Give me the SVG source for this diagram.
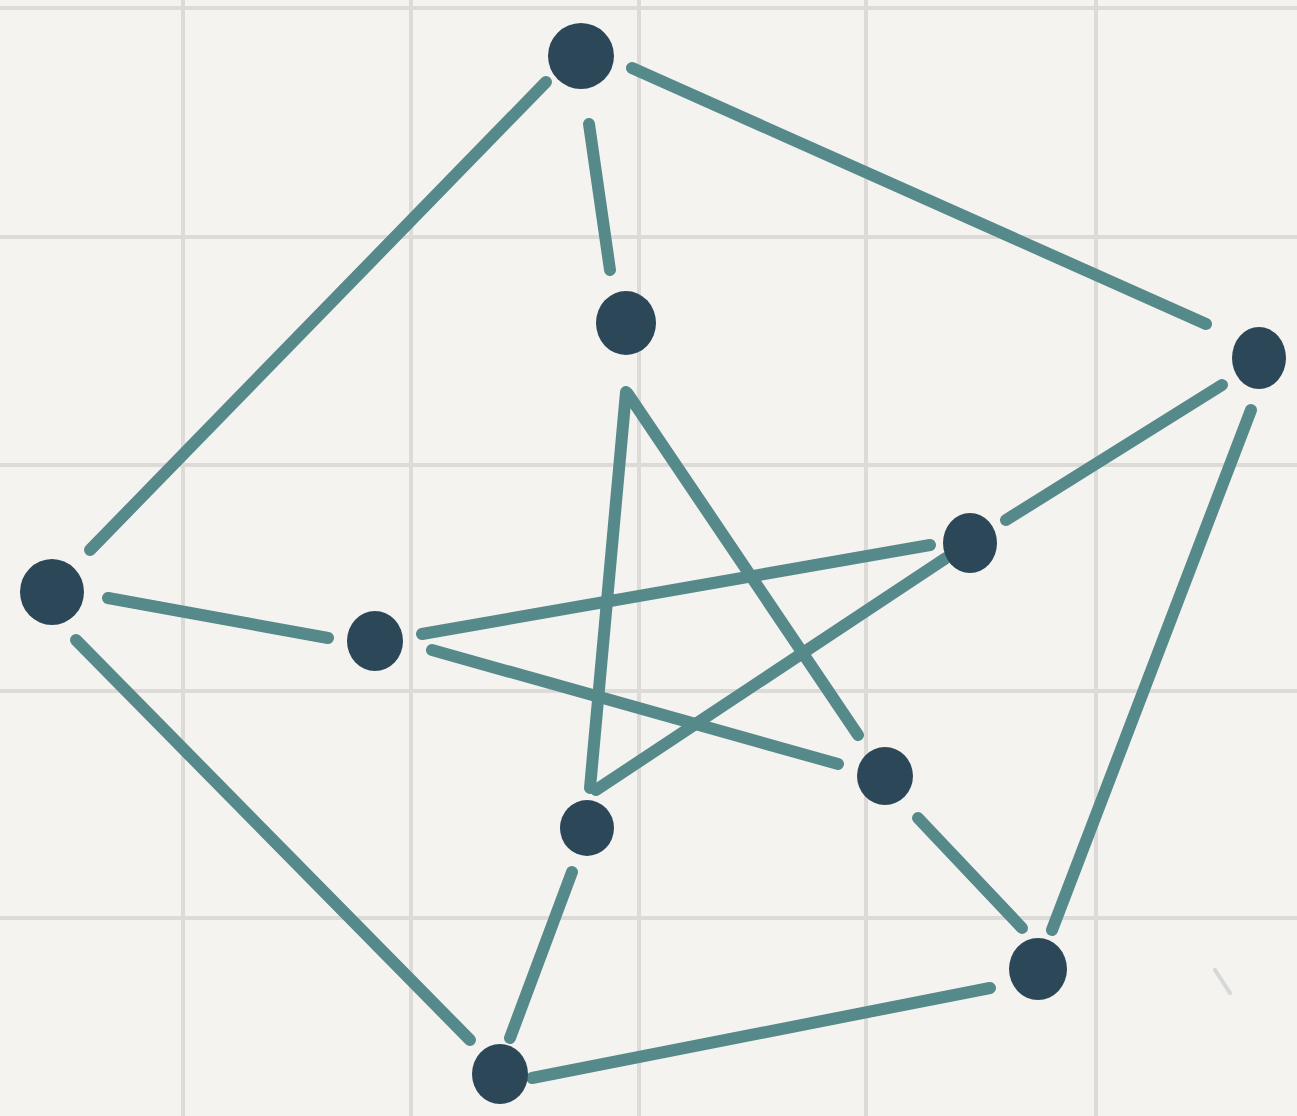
<svg xmlns="http://www.w3.org/2000/svg" width="1297" height="1116" viewBox="0 0 1297 1116">
<style>
.grid line{stroke:#dddbd8;stroke-width:4}
.edges line{stroke:#56898a;stroke-width:12;stroke-linecap:round}
.node{fill:#2c4858}
</style>
<rect width="1297" height="1116" fill="#f4f3f0"/>
<g class="grid">
<line x1="183" y1="0" x2="183" y2="1116"/>
<line x1="411" y1="0" x2="411" y2="1116"/>
<line x1="639" y1="0" x2="639" y2="1116"/>
<line x1="866" y1="0" x2="866" y2="1116"/>
<line x1="1096" y1="0" x2="1096" y2="1116"/>
<line x1="0" y1="8" x2="1297" y2="8"/>
<line x1="0" y1="237" x2="1297" y2="237"/>
<line x1="0" y1="465" x2="1297" y2="465"/>
<line x1="0" y1="691" x2="1297" y2="691"/>
<line x1="0" y1="918" x2="1297" y2="918"/>
</g>
<g class="edges" id="connectors">
<line x1="632" y1="68" x2="1206" y2="324"/>
<line x1="546" y1="82" x2="90" y2="550"/>
<line x1="589" y1="124" x2="610" y2="270"/>
<line x1="1251" y1="410" x2="1052" y2="930"/>
<line x1="1222" y1="385" x2="1006" y2="520"/>
<line x1="990" y1="988" x2="532" y2="1078"/>
<line x1="918" y1="818" x2="1022" y2="928"/>
<line x1="76" y1="640" x2="470" y2="1040"/>
<line x1="572" y1="872" x2="510" y2="1038"/>
<line x1="108" y1="598" x2="328" y2="638"/>
<line x1="626" y1="392" x2="590" y2="788"/>
<line x1="628" y1="394" x2="858" y2="735"/>
<line x1="422" y1="634" x2="930" y2="545"/>
<line x1="432" y1="650" x2="838" y2="764"/>
<line x1="596" y1="790" x2="946" y2="558"/>
</g>
<line x1="1215" y1="970" x2="1230" y2="993" stroke="#c9cdd0" stroke-width="4" stroke-linecap="round" opacity="0.7"/>
<g id="nA"><ellipse class="node" cx="581" cy="56" rx="33" ry="33"/></g>
<g id="nB"><ellipse class="node" cx="1259" cy="358" rx="27" ry="31"/></g>
<g id="nC"><ellipse class="node" cx="1038" cy="969" rx="29" ry="31"/></g>
<g id="nD"><ellipse class="node" cx="500" cy="1074" rx="28" ry="30"/></g>
<g id="nE"><ellipse class="node" cx="52" cy="592" rx="32" ry="33"/></g>
<g id="na"><ellipse class="node" cx="626" cy="323" rx="30" ry="32"/></g>
<g id="nb"><ellipse class="node" cx="970" cy="543" rx="27" ry="30"/></g>
<g id="nc"><ellipse class="node" cx="885" cy="776" rx="28" ry="29"/></g>
<g id="nd"><ellipse class="node" cx="587" cy="828" rx="27" ry="28"/></g>
<g id="ne"><ellipse class="node" cx="375" cy="641" rx="28" ry="30"/></g>
</svg>
